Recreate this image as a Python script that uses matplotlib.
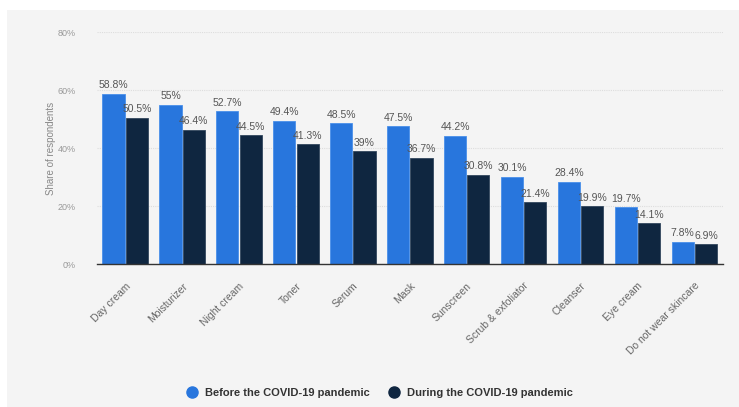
import numpy as np
from matplotlib import pyplot as plt
from matplotlib.patches import Rectangle
from matplotlib.lines import Line2D

plt.rcParams['font.family'] = ['Liberation Sans', 'DejaVu Sans']

categories = ['Day cream', 'Moisturizer', 'Night cream', 'Toner', 'Serum', 'Mask',
              'Sunscreen', 'Scrub & exfoliator', 'Cleanser', 'Eye cream',
              'Do not wear skincare']
before = [58.8, 55, 52.7, 49.4, 48.5, 47.5, 44.2, 30.1, 28.4, 19.7, 7.8]
during = [50.5, 46.4, 44.5, 41.3, 39, 36.7, 30.8, 21.4, 19.9, 14.1, 6.9]
yticks = [0, 20, 40, 60, 80]
series_names = ['Before the COVID-19 pandemic', 'During the COVID-19 pandemic']

blue = '#2876dd'
navy = '#0f2640'

fig = plt.figure(figsize=(7.39, 4.07), dpi=100)
fig.patch.set_facecolor('white')
fig.patches.append(Rectangle((0.01, 0), 0.99, 0.975, transform=fig.transFigure,
                             facecolor='#f4f4f4', edgecolor='none', zorder=-10))

ax = fig.add_axes([0.131, 0.351, 0.847, 0.570])
ax.set_facecolor('none')

x = np.arange(len(categories))
w = 0.39
b1 = ax.bar(x - 0.205, before, w, color=blue, edgecolor='#4a90ea', linewidth=0.6, zorder=3)
b2 = ax.bar(x + 0.205, during, w, color=navy, edgecolor='#33475e', linewidth=0.6, zorder=3)

def fmt(v):
    return ('%g' % v) + '%'

for rect, v in zip(b1, before):
    ax.text(rect.get_x() + rect.get_width() / 2, v + 1.2, fmt(v), ha='center',
            va='bottom', fontsize=7.5, color='#555555', zorder=4)
for rect, v in zip(b2, during):
    ax.text(rect.get_x() + rect.get_width() / 2, v + 1.2, fmt(v), ha='center',
            va='bottom', fontsize=7.5, color='#555555', zorder=4)

ax.set_xlim(-0.5, len(categories) - 0.5)
ax.set_ylim(0, 80)
ax.set_yticks(yticks)
ax.set_yticklabels([str(t) + '%' for t in yticks], fontsize=6.5, color='#999999')
ax.set_xticks(x)
ax.set_xticklabels(categories, rotation=45, ha='right', rotation_mode='anchor',
                   fontsize=7.5, color='#666666')
ax.tick_params(length=0)
ax.tick_params(axis='y', pad=15)
ax.tick_params(axis='x', pad=12)
ax.set_ylabel('Share of respondents', fontsize=7, color='#888888', labelpad=1)

ax.grid(axis='y', color='#dddddd', linestyle=(0, (1, 1)), linewidth=0.8, zorder=0)
for s in ['top', 'right', 'left']:
    ax.spines[s].set_visible(False)
ax.spines['bottom'].set_color('#333333')
ax.spines['bottom'].set_linewidth(1)
ax.spines['bottom'].set_zorder(5)

handles = [Line2D([], [], marker='o', linestyle='none', markersize=8, color=blue),
           Line2D([], [], marker='o', linestyle='none', markersize=8, color=navy)]
leg = fig.legend(handles, series_names, loc='center', bbox_to_anchor=(0.51, 0.034),
                 ncol=2, frameon=False, handletextpad=0.2,
                 columnspacing=1.2, prop={'weight': 'bold', 'size': 8})
for t in leg.get_texts():
    t.set_color('#333333')

fig.savefig('out.png', dpi=100)
